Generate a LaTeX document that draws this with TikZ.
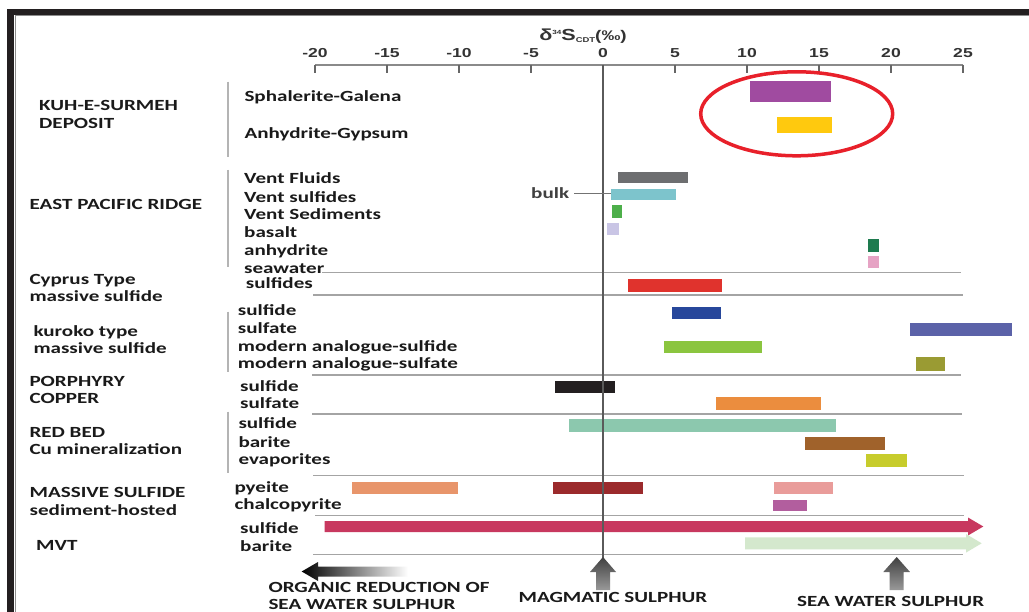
\documentclass[tikz,border=0pt]{standalone}
\usepackage{fontspec}
\setmainfont{Carlito}
\newfontfamily\lab[FakeStretch=1.36]{Carlito}
\newfontfamily\axf[FakeStretch=1.35]{Liberation Sans}
\definecolor{txt}{HTML}{1A1A1A}
\definecolor{bord}{HTML}{231F20}
\definecolor{divl}{HTML}{A4A4A4}
\definecolor{brk}{HTML}{B4B4B4}
\definecolor{axl}{HTML}{8A8A8A}
\definecolor{zerol}{HTML}{5A5A5A}
\definecolor{cSG}{HTML}{A04BA0}
\definecolor{cAG}{HTML}{FFC90E}
\definecolor{cVF}{HTML}{6D6E70}
\definecolor{cVS}{HTML}{7DC4CC}
\definecolor{cVD}{HTML}{4DAF4A}
\definecolor{cBa}{HTML}{C9C5E5}
\definecolor{cAn}{HTML}{1E7B4F}
\definecolor{cSw}{HTML}{E6A3C4}
\definecolor{cCy}{HTML}{E0332D}
\definecolor{cKs}{HTML}{27479B}
\definecolor{cKa}{HTML}{5B62A8}
\definecolor{cMs}{HTML}{8BC53F}
\definecolor{cMa}{HTML}{9A9B33}
\definecolor{cPs}{HTML}{231F20}
\definecolor{cPa}{HTML}{EB8D3E}
\definecolor{cRs}{HTML}{8CC8AE}
\definecolor{cRb}{HTML}{A0622B}
\definecolor{cRe}{HTML}{C7CC2C}
\definecolor{cP1}{HTML}{E8956B}
\definecolor{cP2}{HTML}{9B2A2C}
\definecolor{cP3}{HTML}{E99C9A}
\definecolor{cCh}{HTML}{B25E9E}
\definecolor{cMVs}{HTML}{C8385F}
\definecolor{cMVb}{HTML}{D4E8CD}
\definecolor{ellred}{HTML}{E8202A}
\tikzset{
  lbl/.style={anchor=base west, inner sep=0pt, yshift=-5.5pt, text=txt,
    font=\lab\bfseries\fontsize{15.5}{16}\selectfont},
  ticklbl/.style={anchor=base, inner sep=0pt, text=black!80,
    font=\axf\bfseries\fontsize{13}{13}\selectfont},
  divider/.style={draw=divl, line width=1.6pt},
  bracket/.style={draw=brk, line width=2pt},
  tickm/.style={draw=black!60, line width=1.6pt},
  uparrow/.style={top color=black!75, bottom color=black!40},
}
\begin{document}
\begin{tikzpicture}[x=1pt,y=-1pt]
\useasboundingbox (0,0) rectangle (1029,612);
\fill[white] (0,0) rectangle (1029,612);
% frame
\fill[bord] (7,9) rectangle (1029,15);
\fill[bord] (7,9) rectangle (14,612);
\draw[black!45, line width=0.8pt] (15,612) -- (15,15.8) -- (1029,15.8);

% title
\node[anchor=base, inner sep=0pt, text=black!80] (title) at (583,41)
  {\axf\bfseries{\fontsize{16}{16}\selectfont δ}\raisebox{6.5pt}{\fontsize{6}{6}\selectfont 34}{\fontsize{16}{16}\selectfont S}\raisebox{-1.5pt}{\fontsize{7}{7}\selectfont CDT}{\fontsize{14}{14}\selectfont (‰)}};

% axis
\draw[draw=axl, line width=2pt] (315,65) -- (963,65);
\foreach \v in {-20,-15,...,25} {
  \draw[tickm] ({603+14.4*\v},65) -- ({603+14.4*\v},73);
}
\foreach \v/\t in {-20/-20,-15/-15,-10/-10,-5/-5,0/0,5/5,10/10,15/15,20/20,25/25} {
  \node[ticklbl] (tick\v) at ({603+14.4*\v},58) {\t};
}

% brackets
\draw[bracket] (227.7,81.7) -- (227.7,157.3);
\draw[bracket] (227.7,170) -- (227.7,266.7);
\draw[bracket] (227.7,311.7) -- (227.7,371.7);
\draw[bracket] (227.7,411.7) -- (227.7,472.7);

% dividers
\draw[divider] (322,272.7) -- (961,272.7);
\draw[divider] (313,295) -- (963,295);
\draw[divider] (312,375) -- (961,375);
\draw[divider] (312,414) -- (962,414);
\draw[divider] (313,475.5) -- (964,475.5);
\draw[divider] (315,515.5) -- (964,515.5);
\draw[divider] (313,554.3) -- (963,554.3);

% bars
\foreach \xa/\ya/\xb/\yb/\c in {
  750/80.7/830.7/102/cSG,
  777.3/117.3/832.3/133.3/cAG,
  618/171.7/688/183.3/cVF,
  611.3/189/676/200/cVS,
  612.3/205/622/217.7/cVD,
  607.3/222.7/618.8/235/cBa,
  867.7/239/879/251.7/cAn,
  867.7/255.7/879/268.3/cSw,
  627.5/279/721.7/291.7/cCy,
  672/306.7/721/319.3/cKs,
  910/323.3/1011.8/336/cKa,
  664.3/340.7/761.5/353.3/cMs,
  915.7/357.3/944.7/370.7/cMa,
  555/381/614.7/393.3/cPs,
  716/396.7/821.2/410/cPa,
  568.5/419.3/836.4/432.3/cRs,
  804.7/436.7/885.3/450/cRb,
  866/454/906.6/466.7/cRe,
  352/481.7/458/494.3/cP1,
  552.5/481.7/643/494.3/cP2,
  774.3/481.7/833.3/494.3/cP3,
  773/500/807/511/cCh} {
  \fill[\c] (\xa,\ya) rectangle (\xb,\yb);
}
% MVT arrows
\fill[cMVs] (324.5,521) -- (968,521) -- (968,517.5) -- (983.3,526.5) -- (968,535.5) -- (968,532) -- (324.5,532) -- cycle;
\fill[cMVb] (745,537.3) -- (966,537.3) -- (966,534) -- (981.7,543.3) -- (966,552.6) -- (966,549.3) -- (745,549.3) -- cycle;

% zero line
\draw[draw=zerol, line width=2pt] (603,65) -- (603,560);

% ellipse
\draw[draw=ellred, line width=3.5pt] (796.7,113.8) ellipse [x radius=96pt, y radius=42pt];

% bottom arrows
\shade[left color=black, right color=white] (301.7,571.5) -- (318,562) -- (318,566.7) -- (408,566.7) -- (408,576.7) -- (318,576.7) -- (318,581) -- cycle;
\shade[uparrow] (603,557) -- (616,572) -- (610,572) -- (610,590) -- (596,590) -- (596,572) -- (590,572) -- cycle;
\shade[uparrow] (896.7,557) -- (910,572) -- (903.5,572) -- (903.5,590) -- (889.5,590) -- (889.5,572) -- (883.3,572) -- cycle;

% group labels
\node[lbl] (kuh1) at (39,105) {KUH-E-SURMEH};
\node[lbl] (kuh2) at (39,123.3) {DEPOSIT};
\node[lbl] (epr) at (29.3,204.3) {EAST PACIFIC RIDGE};
\node[lbl] (cyp1) at (29.3,279) {Cyprus Type};
\node[lbl] (cyp2) at (29.3,296.5) {massive sulfide};
\node[lbl] (kur1) at (33.3,330.7) {kuroko type};
\node[lbl] (kur2) at (33.3,348.3) {massive sulfide};
\node[lbl] (por1) at (29.3,380.7) {PORPHYRY};
\node[lbl] (por2) at (29.3,398.3) {COPPER};
\node[lbl] (red1) at (29.3,431.7) {RED BED};
\node[lbl] (red2) at (29.3,449.3) {Cu mineralization};
\node[lbl] (mas1) at (29.5,492) {MASSIVE SULFIDE};
\node[lbl] (mas2) at (29.5,509.5) {sediment-hosted};
\node[lbl] (mvt) at (36,545) {MVT};

% sub labels
\node[lbl] (sg) at (244.3,96) {Sphalerite-Galena};
\node[lbl] (ag) at (244.3,133.3) {Anhydrite-Gypsum};
\node[lbl] (vf) at (244,178.3) {Vent Fluids};
\node[lbl] (vs) at (244,196.7) {Vent sulfides};
\node[lbl] (vd) at (244,214) {Vent Sediments};
\node[lbl] (ba) at (244,232.3) {basalt};
\node[lbl] (an) at (244,250) {anhydrite};
\node[lbl] (sw) at (244,267.7) {seawater};
\node[lbl] (cys) at (245.7,283.3) {sulfides};
\node[lbl] (ks) at (237.7,310) {sulfide};
\node[lbl] (ka) at (237.7,327.7) {sulfate};
\node[lbl] (ms) at (237.7,345.7) {modern analogue-sulfide};
\node[lbl] (ma) at (237.7,363.3) {modern analogue-sulfate};
\node[lbl] (ps) at (240,385.7) {sulfide};
\node[lbl] (pa) at (240,403.3) {sulfate};
\node[lbl] (rs) at (238.3,423.3) {sulfide};
\node[lbl] (rb) at (238.3,441.7) {barite};
\node[lbl] (re) at (238.3,459.3) {evaporites};
\node[lbl] (py) at (234.3,486.7) {pyeite};
\node[lbl] (ch) at (234.3,504.3) {chalcopyrite};
\node[lbl] (mvs) at (240,527.7) {sulfide};
\node[lbl] (mvb) at (240,546) {barite};

% bulk
\node[lbl, text=black!75] (bulk) at (531,193) {bulk};
\coordinate (bulkend) at (611,193);
\draw[black!55, line width=0.8pt] (bulk.east |- bulkend) ++(5,0) -- (bulkend);

% bottom labels
\node[lbl] (org1) at (268.3,587) {ORGANIC REDUCTION OF};
\node[lbl] (org2) at (268.3,604) {SEA WATER SULPHUR};
\node[lbl] (mag) at (518.4,597) {MAGMATIC SULPHUR};
\node[lbl] (sea) at (797,601) {SEA WATER SULPHUR};
\end{tikzpicture}
\end{document}
